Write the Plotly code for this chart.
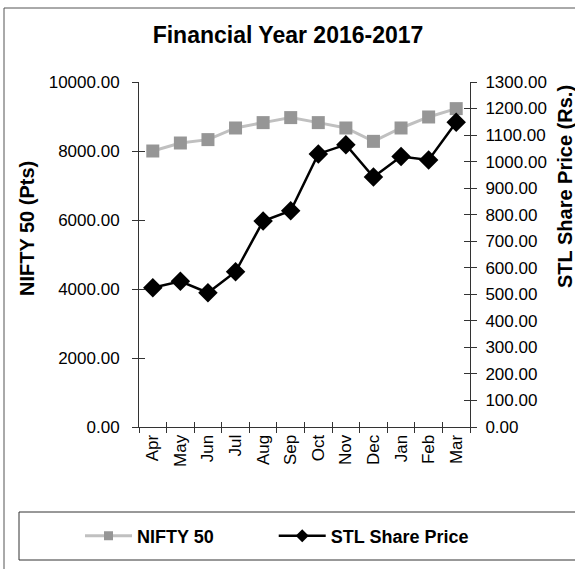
import plotly.graph_objects as go

months = ["Apr", "May", "Jun", "Jul", "Aug", "Sep", "Oct", "Nov", "Dec", "Jan", "Feb", "Mar"]
nifty = [8000, 8232, 8330, 8667, 8823, 8968, 8823, 8667, 8280, 8667, 8986, 9228]
stl = [525, 549, 506, 585, 776, 815, 1029, 1064, 942, 1019, 1006, 1148]

left_ticks = [0, 2000, 4000, 6000, 8000, 10000]
right_ticks = list(range(0, 1301, 100))

FONT = "Liberation Sans, Arial, sans-serif"
W, H = 575, 569
L, R, T, B = 139, 105, 82, 142
pw, ph = W - L - R, H - T - B

def px_x(x):
    return (x - L) / pw

def px_y(y):
    return (H - B - y) / ph

NIFTY_LINE = dict(color="#c0c0c0", width=3)
NIFTY_MARK = "#969696"
STL_LINE = dict(color="#000000", width=2.5)

fig = go.Figure()
fig.add_trace(go.Scatter(
    x=months, y=nifty, name="NIFTY 50", mode="lines+markers",
    line=NIFTY_LINE, marker=dict(symbol="square", size=13, color=NIFTY_MARK),
    yaxis="y", xaxis="x", showlegend=False, legendgroup="n",
))
fig.add_trace(go.Scatter(
    x=months, y=stl, name="STL Share Price", mode="lines+markers",
    line=STL_LINE, marker=dict(symbol="diamond", size=15, color="#000000"),
    yaxis="y2", xaxis="x", showlegend=False, legendgroup="s",
))
# legend entries (smaller markers, as in the reference legend)
fig.add_trace(go.Scatter(
    x=[None], y=[None], name="<b>NIFTY 50</b>" + "\u00a0" * 11, mode="lines+markers",
    line=NIFTY_LINE, marker=dict(symbol="square", size=9, color=NIFTY_MARK),
    legendgroup="n", hoverinfo="skip",
))
fig.add_trace(go.Scatter(
    x=[None], y=[None], name="<b>STL Share Price</b>", mode="lines+markers",
    line=STL_LINE, marker=dict(symbol="diamond", size=10, color="#000000"),
    yaxis="y2", legendgroup="s", hoverinfo="skip",
))

axcol = "#333333"
fig.update_layout(
    template="none",
    width=W, height=H,
    margin=dict(l=L, r=R, t=T, b=B, pad=0),
    paper_bgcolor="white", plot_bgcolor="white",
    font=dict(family=FONT, size=17, color="#000000"),
    title=dict(text="<b>Financial Year 2016-2017</b>", x=288 / W, xanchor="center",
               xref="container", yref="container",
               y=1 - 35 / H, yanchor="middle", font=dict(size=23)),
    xaxis=dict(type="category", categoryorder="array", categoryarray=months,
               range=[-0.5, 11.5], showline=True, linecolor=axcol, linewidth=1,
               ticks="outside", ticklen=5, tickcolor=axcol, tickson="boundaries",
               tickangle=-90, showgrid=False, zeroline=False, automargin=False,
               tickfont=dict(size=17)),
    yaxis=dict(range=[0, 10000], tickvals=left_ticks,
               ticktext=[f"{v:.2f}" for v in left_ticks],
               showline=True, linecolor=axcol, linewidth=1, ticks="outside",
               ticklen=6, tickcolor=axcol, showgrid=False, zeroline=False,
               automargin=False, ticklabelstandoff=9, tickfont=dict(size=17)),
    yaxis2=dict(range=[0, 1300], tickvals=right_ticks,
                ticktext=[f"{v:.2f}" for v in right_ticks],
                overlaying="y", side="right",
                showline=True, linecolor=axcol, linewidth=1, ticks="outside",
                ticklen=6, tickcolor=axcol, showgrid=False, zeroline=False,
                automargin=False, ticklabelstandoff=5, tickfont=dict(size=17)),
    yaxis3=dict(range=[0, 10000], tickvals=left_ticks, showticklabels=False,
                overlaying="y", side="left", ticks="inside", ticklen=6,
                tickcolor=axcol, showgrid=False, zeroline=False, showline=False,
                automargin=False),
    yaxis4=dict(range=[0, 1300], tickvals=right_ticks, showticklabels=False,
                overlaying="y", side="right", ticks="inside", ticklen=6,
                tickcolor=axcol, showgrid=False, zeroline=False, showline=False,
                automargin=False),
    xaxis2=dict(range=[0, 12], tickvals=list(range(13)), showticklabels=False,
                overlaying="x", side="bottom", anchor="y", ticks="inside", ticklen=5,
                tickcolor=axcol, showgrid=False, zeroline=False, showline=False,
                automargin=False),
    legend=dict(orientation="h",
                x=px_x(80), xanchor="left", y=px_y(536), yanchor="middle",
                font=dict(size=18, family=FONT), bgcolor="rgba(0,0,0,0)",
                borderwidth=0, itemwidth=47, itemsizing="trace"),
    annotations=[
        dict(text="<b>NIFTY 50 (Pts)</b>", xref="paper", yref="paper",
             x=px_x(27), y=px_y(229), textangle=-90, showarrow=False,
             xanchor="center", yanchor="middle", font=dict(size=20)),
        dict(text="<b>STL Share Price (Rs.)</b>", xref="paper", yref="paper",
             x=px_x(565), y=px_y(187), textangle=-90, showarrow=False,
             xanchor="center", yanchor="middle", font=dict(size=20)),
    ],
    shapes=[
        dict(type="rect", xref="paper", yref="paper",
             x0=px_x(4), x1=px_x(800), y0=px_y(800), y1=px_y(8),
             line=dict(color="#555555", width=1), layer="below"),
        dict(type="rect", xref="paper", yref="paper",
             x0=px_x(19), x1=px_x(800), y0=px_y(560), y1=px_y(512),
             line=dict(color="#333333", width=1)),
    ],
    showlegend=True,
)
fig.add_trace(go.Scatter(x=[None], y=[None], yaxis="y3", showlegend=False, hoverinfo="skip"))
fig.add_trace(go.Scatter(x=[None], y=[None], yaxis="y4", showlegend=False, hoverinfo="skip"))
fig.add_trace(go.Scatter(x=[None], y=[None], xaxis="x2", showlegend=False, hoverinfo="skip"))

fig.write_html("out.html", config={"displayModeBar": False},
               post_script="document.body.style.margin='0';document.body.style.overflow='hidden';")
